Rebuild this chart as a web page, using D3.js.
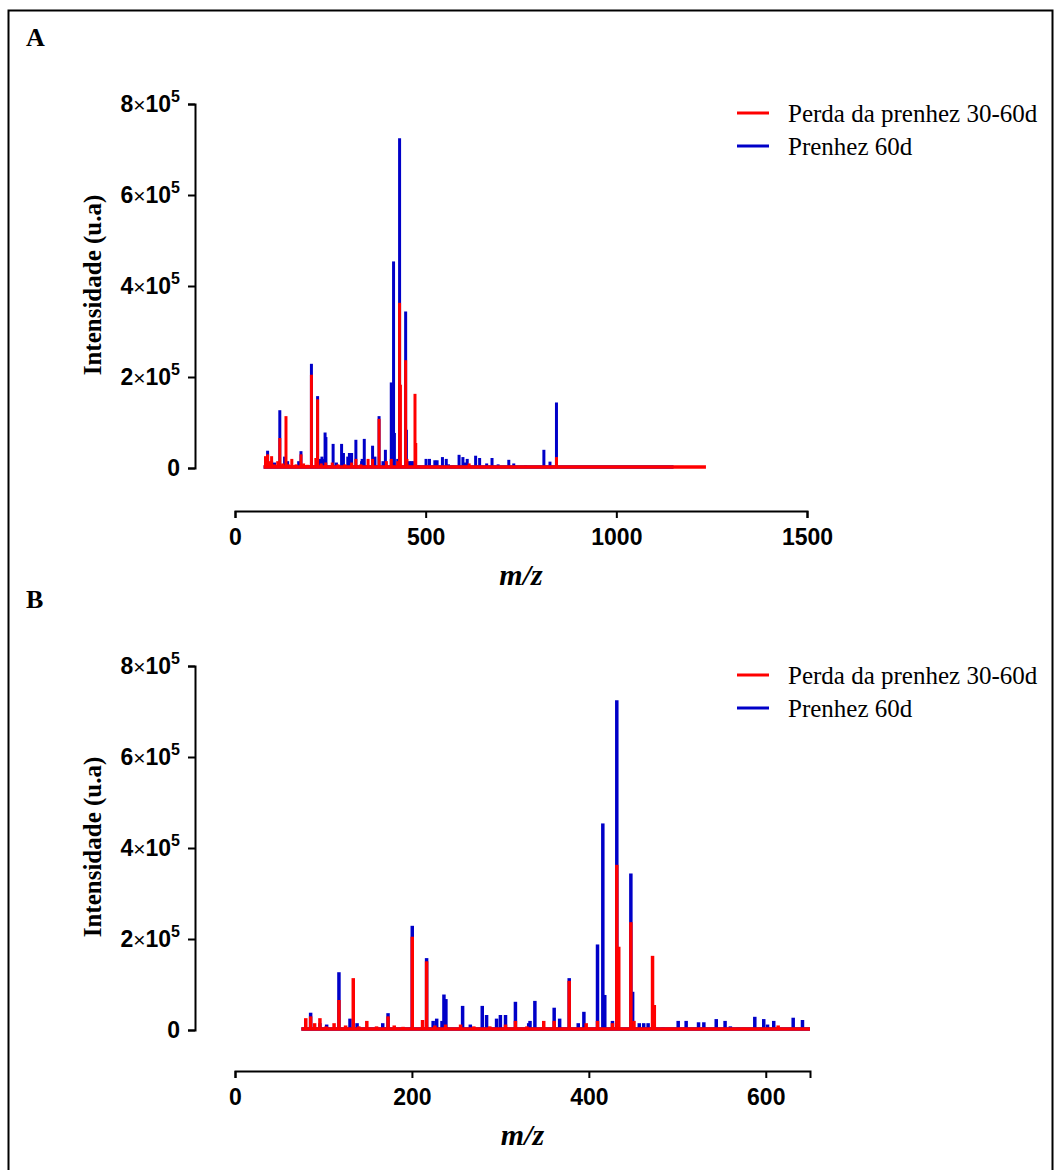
<!DOCTYPE html>
<html>
<head>
<meta charset="utf-8">
<script src="https://cdn.jsdelivr.net/npm/d3@7/dist/d3.min.js"></script>
<style>
  body { margin: 0; background: #fff; }
  svg { display: block; }
</style>
</head>
<body>
<div id="viz"></div>
<script>
/* MALDI spectra, two groups, full range (A) and zoom 0-650 (B) */

// Prenhez 60d (blue) - peak m/z and intensity
var blueMz  = [85.5, 96, 103.6, 117.5, 130, 138, 167, 173, 200.4, 216.6, 224, 228, 234, 236.2, 238.4,
               257.3, 266, 279.5, 284.4, 295.7, 300, 305.8, 317, 332, 333.5, 339, 360.8, 367, 377.8,
               388, 394.4, 409.8, 415.8, 418, 426.7, 431.6, 447.5, 449.5, 457, 462, 467, 484, 501,
               510, 524, 530, 544, 554, 560, 569, 587.6, 597.7, 602, 609, 631, 641.5,
               660, 674, 690, 718, 731, 762, 772, 780, 810, 826, 843, 866, 888, 910, 941, 958, 987, 1072, 1146];
var blueInt = [0.38e5, 0.15e5, 0.12e5, 1.27e5, 0.25e5, 0.15e5, 0.15e5, 0.37e5, 2.29e5, 1.58e5, 0.2e5, 0.25e5, 0.2e5, 0.78e5, 0.68e5,
               0.53e5, 0.12e5, 0.53e5, 0.33e5, 0.25e5, 0.33e5, 0.33e5, 0.62e5, 0.15e5, 0.2e5, 0.64e5, 0.49e5, 0.25e5, 1.14e5,
               0.15e5, 0.4e5, 1.88e5, 4.54e5, 0.77e5, 0.2e5, 7.25e5, 3.44e5, 0.84e5, 0.15e5, 0.15e5, 0.15e5, 0.05e5, 0.2e5,
               0.2e5, 0.17e5, 0.17e5, 0.24e5, 0.2e5, 0.08e5, 0.05e5, 0.29e5, 0.24e5, 0.12e5, 0.2e5, 0.27e5, 0.22e5,
               0.1e5, 0.22e5, 0.08e5, 0.18e5, 0.1e5, 0.05e5, 0.03e5, 0.04e5, 0.4e5, 0.14e5, 1.44e5, 0.03e5, 0.02e5, 0.02e5, 0.01e5, 0.01e5, 0.015e5, 0.01e5, 0.01e5];

// Perda da prenhez 30-60d (red)
var redMz  = [80, 85.5, 90, 96, 103, 112, 117.5, 125, 133.7, 140, 149, 160, 173, 180, 190, 200.4, 212, 216.6,
              226, 238, 255, 270, 288, 305.8, 317, 330, 349, 360.8, 377.8, 397, 409.8, 426.7, 431.6, 433.8,
              447.5, 451, 472, 474, 490, 520, 575, 614, 650, 843, 900, 1000];
var redInt = [0.26e5, 0.3e5, 0.15e5, 0.26e5, 0.08e5, 0.15e5, 0.66e5, 0.1e5, 1.14e5, 0.08e5, 0.2e5, 0.08e5, 0.3e5, 0.1e5, 0.07e5, 2.05e5, 0.22e5, 1.51e5,
              0.1e5, 0.12e5, 0.12e5, 0.08e5, 0.08e5, 0.12e5, 0.2e5, 0.08e5, 0.2e5, 0.2e5, 1.08e5, 0.15e5, 0.2e5, 0.15e5, 3.63e5, 1.83e5,
              2.37e5, 0.2e5, 1.63e5, 0.55e5, 0.05e5, 0.04e5, 0.05e5, 0.1e5, 0.03e5, 0.24e5, 0.02e5, 0.01e5];

// acquisition range (baseline) of each spectrum
var blueRange = [75, 1150],
    redRange = [75, 1235];

var yTicks = [0, 2e5, 4e5, 6e5, 8e5],
    seriesNames = ['Perda da prenhez 30-60d', 'Prenhez 60d'],
    seriesColors = ['#ff0000', '#0000c8'];

var panels = [
  { label: 'A', xMax: 1500, xTicks: [0, 500, 1000, 1500], xEnd: 807, y0: 468, xAxisY: 511, top: 0, peakW: 3 },
  { label: 'B', xMax: 650, xTicks: [0, 200, 400, 600], xEnd: 810, y0: 1030, xAxisY: 1071, top: 562, peakW: 3.5 }
];

var serif = '"Liberation Serif", "Times New Roman", serif',
    sans = '"Liberation Sans", Arial, sans-serif';

var svg = d3.select('#viz').append('svg')
    .attr('width', 1056)
    .attr('height', 1170);

svg.append('rect')
    .attr('width', 1056).attr('height', 1170)
    .attr('fill', '#fff');

// frame around the figure
svg.append('rect')
    .attr('x', 8.5).attr('y', 10.5)
    .attr('width', 1044).attr('height', 1200)
    .attr('fill', 'none')
    .attr('stroke', '#000')
    .attr('stroke-width', 2);

function toPeaks(mz, vals) {
  return mz.map(function(m, i) { return { mz: m, v: vals[i] }; });
}

var bluePeaks = toPeaks(blueMz, blueInt),
    redPeaks = toPeaks(redMz, redInt);

panels.forEach(function(p, pi) {
  var xScale = d3.scaleLinear().domain([0, p.xMax]).range([235, p.xEnd]),
      yScale = d3.scaleLinear().domain([0, 8e5]).range([p.y0, p.y0 - 364]);

  var g = svg.append('g');

  g.append('clipPath').attr('id', 'clip' + pi)
    .append('rect')
      .attr('x', xScale(0)).attr('y', yScale(8e5) - 10)
      .attr('width', xScale(p.xMax) - xScale(0))
      .attr('height', p.y0 - yScale(8e5) + 14);

  var plot = g.append('g').attr('clip-path', 'url(#clip' + pi + ')');

  function drawSeries(peaks, range, color) {
    plot.append('line')
        .attr('x1', xScale(range[0]))
        .attr('x2', xScale(Math.min(range[1], p.xMax)))
        .attr('y1', yScale(0) - 1).attr('y2', yScale(0) - 1)
        .attr('stroke', color)
        .attr('stroke-width', 3.5);

    plot.selectAll(null)
      .data(peaks.filter(function(d) { return d.mz <= p.xMax; }))
      .enter().append('line')
        .attr('x1', function(d) { return xScale(d.mz); })
        .attr('x2', function(d) { return xScale(d.mz); })
        .attr('y1', yScale(0))
        .attr('y2', function(d) { return yScale(d.v); })
        .attr('stroke', color)
        .attr('stroke-width', p.peakW);
  }

  drawSeries(bluePeaks, blueRange, seriesColors[1]);
  drawSeries(redPeaks, redRange, seriesColors[0]);

  // y axis
  var yAxis = g.append('g')
      .attr('transform', 'translate(195,0)')
      .call(d3.axisLeft(yScale).tickValues(yTicks).tickSize(7).tickPadding(8).tickFormat(''));

  // x axis
  var xAxis = g.append('g')
      .attr('transform', 'translate(0,' + p.xAxisY + ')')
      .call(d3.axisBottom(xScale).tickValues(p.xTicks).tickSize(7).tickPadding(11).tickFormat(d3.format('d')));

  [yAxis, xAxis].forEach(function(ax) {
    ax.selectAll('path, line').attr('stroke', '#000').attr('stroke-width', 2);
    ax.selectAll('text')
      .attr('fill', '#000')
      .attr('font-family', sans)
      .attr('font-weight', 'bold')
      .attr('font-size', 23);
  });

  yAxis.selectAll('.tick text').each(function(d) {
    var t = d3.select(this);
    if (d === 0) { t.text('0'); return; }
    t.append('tspan').text(d / 1e5);
    t.append('tspan').text('\u00d7').attr('font-size', 21).attr('font-weight', 'normal');
    t.append('tspan').text('10');
    t.append('tspan').text('5').attr('font-size', 16).attr('dy', '-0.6em');
  });

  g.append('text')
      .attr('transform', 'translate(92,' + (p.y0 - 183) + ') rotate(-90)')
      .attr('text-anchor', 'middle')
      .attr('dominant-baseline', 'central')
      .attr('font-family', serif)
      .attr('font-weight', 'bold')
      .attr('font-size', 25)
      .text('Intensidade (u.a)');

  g.append('text')
      .attr('x', (xScale(0) + xScale(p.xMax)) / 2)
      .attr('y', p.xAxisY + 74)
      .attr('text-anchor', 'middle')
      .attr('font-family', serif)
      .attr('font-style', 'italic')
      .attr('font-weight', 'bold')
      .attr('font-size', 30)
      .text('m/z');

  g.append('text')
      .attr('x', 26).attr('y', 46 + p.top)
      .attr('font-family', serif)
      .attr('font-weight', 'bold')
      .attr('font-size', 26)
      .text(p.label);

  // legend
  var legend = g.append('g')
      .attr('transform', 'translate(737,' + (113 + p.top) + ')')
      .selectAll('g').data(seriesNames)
      .enter().append('g')
        .attr('transform', function(d, i) { return 'translate(0,' + (i * 33) + ')'; });

  legend.append('line')
      .attr('x1', 0).attr('x2', 32)
      .attr('stroke', function(d, i) { return seriesColors[i]; })
      .attr('stroke-width', 3);

  legend.append('text')
      .attr('x', 51)
      .attr('dominant-baseline', 'central')
      .attr('font-family', serif)
      .attr('font-size', 25)
      .text(function(d) { return d; });
});
</script>
</body>
</html>
